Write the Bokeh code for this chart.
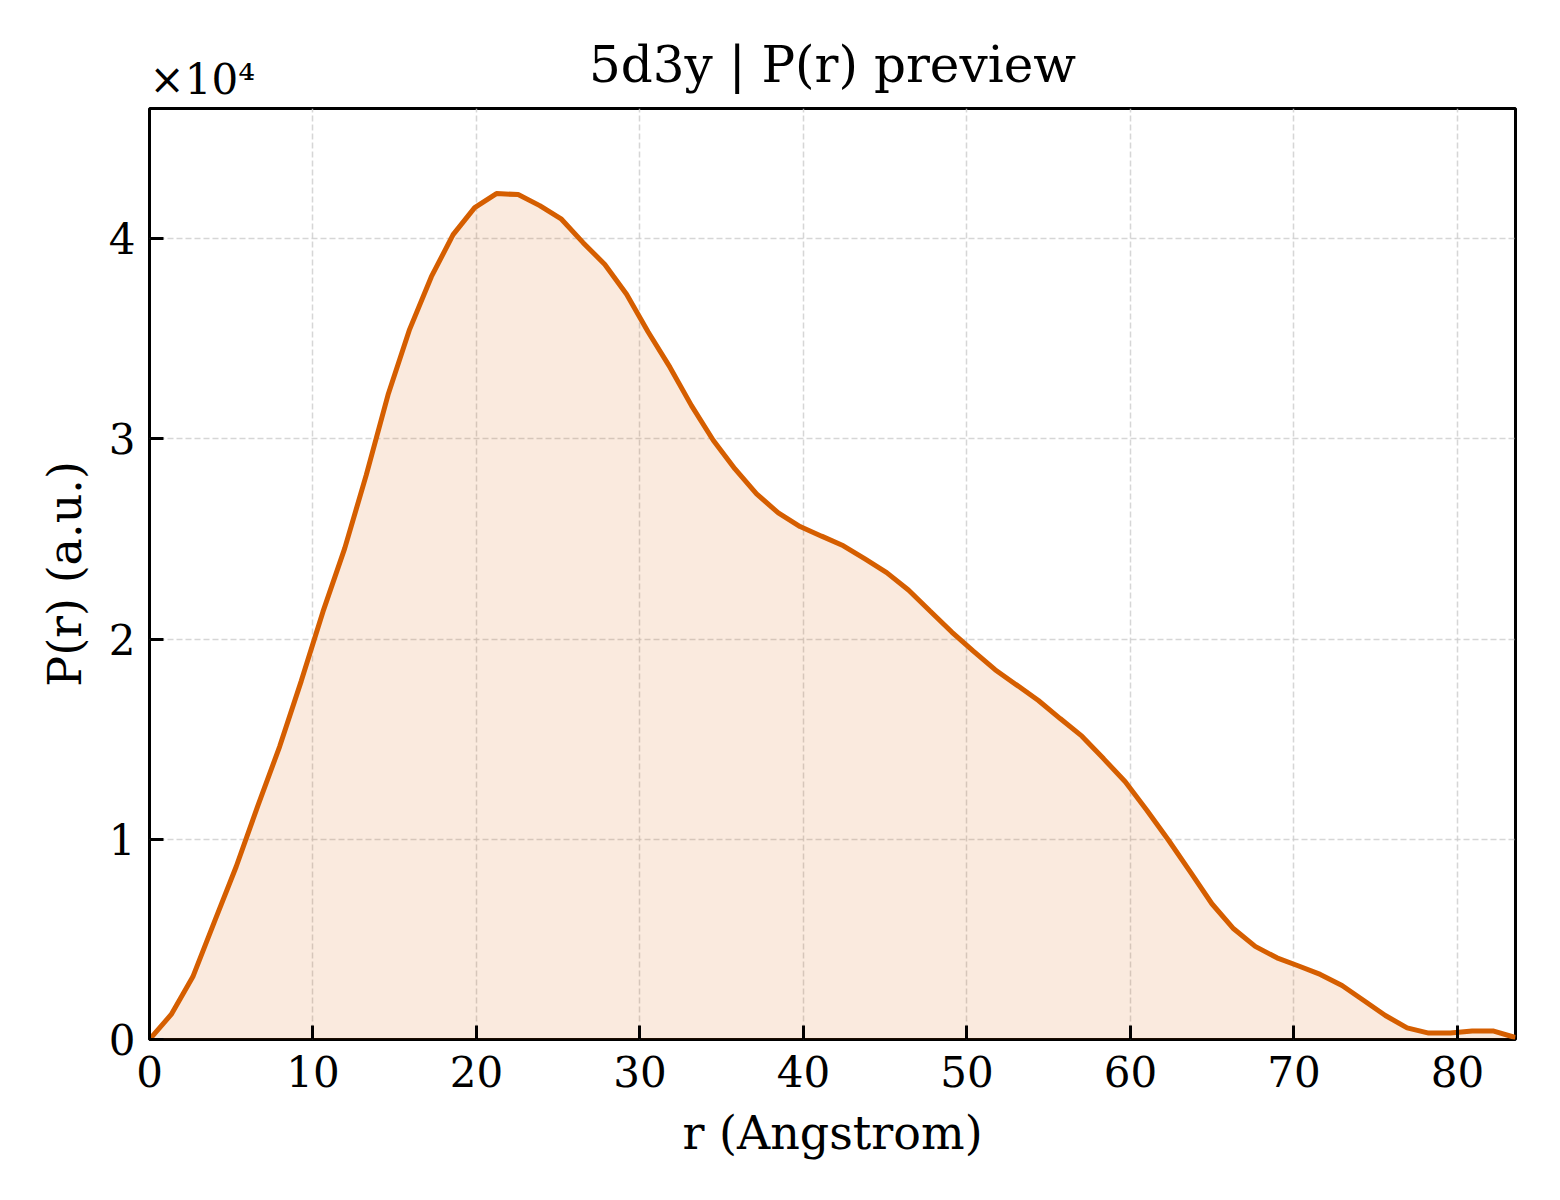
from bokeh.plotting import figure
from bokeh.models import Range1d, FixedTicker, Title
from bokeh.embed import file_html
from bokeh.resources import INLINE

# pair distance r (Angstrom) and P(r) (a.u.)
r = [0.00, 1.33, 2.65, 3.98, 5.30, 6.63, 7.96, 9.28, 10.61, 11.94,
     13.26, 14.59, 15.91, 17.24, 18.57, 19.89, 21.22, 22.55, 23.87, 25.20,
     26.52, 27.85, 29.18, 30.50, 31.83, 33.15, 34.48, 35.81, 37.13, 38.46,
     39.79, 41.11, 42.44, 43.76, 45.09, 46.42, 47.74, 49.07, 50.39, 51.72,
     53.05, 54.37, 55.70, 57.03, 58.35, 59.68, 61.00, 62.33, 63.66, 64.98,
     66.31, 67.63, 68.96, 70.29, 71.61, 72.94, 74.27, 75.59, 76.92, 78.24,
     79.57, 80.90, 82.22, 83.55]
pr = [0, 1250, 3130, 5900, 8630, 11680, 14630, 17900, 21370, 24530,
      28200, 32200, 35470, 38100, 40200, 41550, 42250, 42200, 41650, 40970,
      39800, 38710, 37220, 35340, 33580, 31660, 29930, 28500, 27250, 26300,
      25620, 25140, 24660, 24000, 23320, 22450, 21400, 20350, 19400, 18470,
      17700, 16930, 16030, 15150, 14030, 12870, 11450, 9950, 8370, 6780,
      5530, 4650, 4080, 3670, 3250, 2700, 1950, 1200, 580, 320,
      320, 420, 420, 100]

x_ticks = [0, 10, 20, 30, 40, 50, 60, 70, 80]
y_ticks = [0, 10000, 20000, 30000, 40000]
y_tick_labels = ["0", "1", "2", "3", "4"]

FONT = "DejaVu Serif"
ORANGE = "#D55E00"

p = figure(width=1544, height=1184, output_backend="svg", toolbar_location=None,
           x_range=Range1d(0, r[-1]), y_range=Range1d(0, 46500),
           title="5d3y | P(r) preview")
p.min_border_left = 149
p.min_border_right = 29
p.min_border_top = 108
p.min_border_bottom = 145

# offset exponent shown above the y axis, matplotlib style
sci = Title(text="×10⁴", align="left", offset=0, standoff=10,
            text_font=FONT, text_font_size="42px", text_font_style="normal",
            text_color="black")
p.add_layout(sci, "above")

p.title.align = "center"
p.title.text_font = FONT
p.title.text_font_size = "50px"
p.title.text_font_style = "normal"
p.title.text_color = "black"
p.title.standoff = -92

p.outline_line_color = "black"
p.outline_line_width = 3
p.outline_line_alpha = 1

p.varea(x=r, y1=0, y2=pr, fill_color=ORANGE, fill_alpha=0.13)
p.line(r, pr, line_color=ORANGE, line_width=5)

p.xaxis.ticker = FixedTicker(ticks=x_ticks)
p.yaxis.ticker = FixedTicker(ticks=y_ticks)
p.yaxis.major_label_overrides = dict(zip(y_ticks, y_tick_labels))

for ax in [p.xaxis, p.yaxis]:
    ax.axis_line_color = None
    ax.major_tick_in = 14
    ax.major_tick_out = 0
    ax.major_tick_line_width = 3
    ax.major_tick_line_color = "black"
    ax.minor_tick_line_color = None
    ax.major_label_text_font = FONT
    ax.major_label_text_font_size = "42px"
    ax.major_label_text_color = "black"
    ax.axis_label_text_font = FONT
    ax.axis_label_text_font_size = "46px"
    ax.axis_label_text_font_style = "normal"
    ax.axis_label_text_color = "black"

p.xaxis.axis_label = "r (Angstrom)"
p.yaxis.axis_label = "P(r) (a.u.)"
p.xaxis.major_label_standoff = 16
p.yaxis.major_label_standoff = 14
p.xaxis.axis_label_standoff = 16
p.yaxis.axis_label_standoff = 14

p.grid.grid_line_color = "#cccccc"
p.grid.grid_line_alpha = 0.8
p.grid.grid_line_width = 1.5
p.grid.grid_line_dash = "6 3"

open("out.html", "w").write(file_html(p, INLINE))
